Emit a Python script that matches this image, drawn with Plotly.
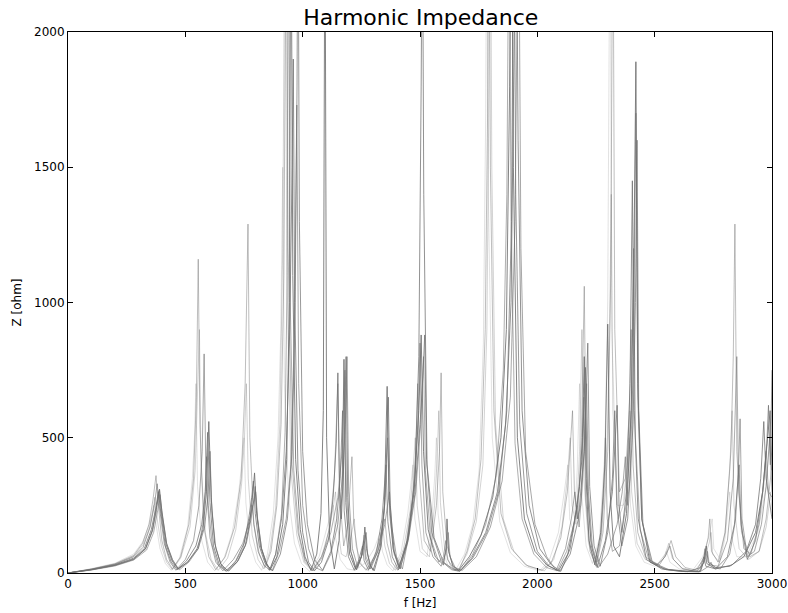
import plotly.graph_objects as go

# (f [Hz], Z [ohm]) points, one list per sweep
curve_a = [(0,0),(100,12),(200,28),(280,50),(330,90),(360,160),(378,250),(390,310),(400,230),(420,110),(445,50),(470,15),(510,40),(550,90),(575,160),(590,300),(600,560),(610,280),(625,110),(650,35),(680,8),(720,40),(755,100),(775,190),(788,300),(795,370),(803,230),(820,100),(840,45),(862,12),(890,60),(915,180),(932,420),(943,1000),(950,2600),(958,1100),(970,420),(990,160),(1010,60),(1035,10),(1060,70),(1078,220),(1088,600),(1095,2600),(1102,500),(1115,130),(1135,15),(1155,120),(1168,300),(1176,790),(1184,260),(1200,70),(1225,15),(1250,60),(1260,110),(1265,170),(1272,90),(1285,35),(1300,10),(1330,90),(1348,250),(1360,690),(1368,280),(1385,90),(1410,20),(1445,120),(1475,300),(1495,600),(1505,880),(1515,450),(1535,160),(1565,60),(1600,30),(1612,100),(1615,200),(1622,80),(1640,25),(1665,10),(1710,60),(1760,140),(1810,280),(1845,500),(1868,900),(1882,1800),(1890,2600),(1898,1500),(1915,500),(1945,200),(1990,80),(2040,30),(2090,8),(2130,70),(2160,200),(2180,320),(2192,500),(2200,800),(2208,350),(2220,120),(2245,30),(2270,150),(2288,400),(2300,920),(2310,300),(2325,100),(2350,60),(2380,220),(2400,600),(2412,1200),(2420,1890),(2428,700),(2445,200),(2480,40),(2540,15),(2620,8),(2695,5),(2712,50),(2720,100),(2728,40),(2760,20),(2820,25),(2880,60),(2930,150),(2960,300),(2980,480),(2992,600),(3000,380)]

curve_b = [(0,0),(100,13),(200,30),(280,55),(325,90),(355,160),(374,240),(385,300),(396,220),(415,100),(440,40),(465,12),(505,45),(545,100),(570,180),(585,300),(595,520),(605,260),(620,100),(645,30),(675,6),(715,45),(750,110),(770,200),(783,280),(790,340),(798,220),(815,100),(838,40),(860,10),(885,70),(910,200),(930,450),(945,900),(955,1500),(960,1900),(966,1000),(980,380),(1000,150),(1025,40),(1050,8),(1080,40),(1110,120),(1130,280),(1143,480),(1150,740),(1157,300),(1165,200),(1175,400),(1185,800),(1192,280),(1205,80),(1228,12),(1255,70),(1265,120),(1270,150),(1277,70),(1290,25),(1305,8),(1335,100),(1352,280),(1365,650),(1373,250),(1390,80),(1415,15),(1450,130),(1478,350),(1495,800),(1505,1800),(1510,2600),(1516,1400),(1530,400),(1560,130),(1600,40),(1640,15),(1670,8),(1720,55),(1780,150),(1830,300),(1865,550),(1888,1000),(1902,1900),(1910,2600),(1918,1600),(1935,600),(1965,250),(2010,90),(2060,30),(2100,6),(2140,90),(2170,250),(2190,420),(2205,760),(2213,300),(2230,100),(2255,20),(2290,120),(2320,300),(2340,620),(2348,250),(2360,150),(2380,300),(2395,700),(2405,1450),(2413,600),(2430,200),(2465,50),(2530,15),(2610,6),(2690,4),(2708,40),(2715,90),(2722,35),(2760,15),(2830,30),(2890,80),(2930,180),(2952,350),(2965,560),(2975,350),(2990,250),(3000,200)]

curve_c = [(0,0),(100,14),(200,32),(280,60),(320,95),(350,170),(368,250),(380,330),(390,240),(410,110),(435,40),(460,10),(500,50),(535,120),(558,250),(572,450),(580,810),(588,350),(605,130),(630,40),(660,8),(705,50),(745,110),(772,190),(790,260),(800,300),(808,200),(825,90),(848,30),(870,8),(900,80),(930,200),(950,400),(965,900),(975,1730),(983,700),(1000,250),(1025,90),(1055,20),(1085,8),(1120,70),(1150,180),(1172,380),(1182,550),(1189,800),(1196,300),(1212,90),(1235,20),(1250,60),(1260,120),(1268,50),(1285,15),(1320,80),(1350,180),(1370,300),(1380,170),(1400,60),(1425,15),(1455,150),(1480,380),(1493,600),(1500,850),(1508,400),(1525,150),(1555,60),(1590,25),(1612,80),(1620,150),(1628,60),(1650,20),(1680,10),(1740,60),(1800,170),(1850,340),(1885,650),(1905,1300),(1920,2600),(1930,1200),(1950,450),(1990,180),(2040,60),(2080,10),(2120,90),(2145,200),(2160,300),(2170,200),(2185,250),(2200,450),(2210,700),(2218,300),(2235,90),(2260,20),(2300,70),(2340,180),(2362,300),(2375,430),(2383,250),(2395,350),(2410,800),(2420,1700),(2428,650),(2445,200),(2485,40),(2550,12),(2630,5),(2700,8),(2730,25),(2740,40),(2750,20),(2780,15),(2820,70),(2845,200),(2858,400),(2864,570),(2872,200),(2895,60),(2925,80),(2955,180),(2975,320),(2990,500),(3000,300)]

curve_d = [(0,0),(100,15),(200,34),(280,65),(318,110),(345,180),(362,270),(375,360),(385,250),(400,120),(420,50),(445,15),(480,60),(515,180),(535,350),(547,650),(555,1160),(562,550),(578,180),(600,60),(630,12),(670,60),(710,170),(738,350),(755,700),(767,1290),(775,500),(792,180),(815,70),(840,20),(865,80),(890,250),(908,550),(920,1100),(930,2600),(938,1200),(955,400),(980,150),(1010,40),(1045,8),(1085,60),(1115,170),(1135,350),(1150,700),(1158,280),(1175,100),(1192,180),(1210,430),(1218,180),(1240,40),(1270,10),(1305,60),(1330,130),(1350,200),(1360,110),(1380,40),(1405,10),(1440,100),(1468,280),(1482,450),(1490,700),(1498,350),(1518,120),(1545,80),(1570,250),(1583,450),(1590,740),(1597,300),(1615,100),(1640,30),(1665,8),(1700,80),(1735,200),(1760,420),(1778,900),(1788,1700),(1794,2600),(1800,1500),(1815,600),(1845,220),(1890,90),(1950,30),(2020,10),(2060,40),(2100,130),(2128,300),(2150,600),(2158,300),(2172,200),(2188,500),(2200,1060),(2208,400),(2228,120),(2255,40),(2280,150),(2300,450),(2313,1100),(2322,2600),(2330,900),(2350,300),(2375,350),(2392,600),(2400,900),(2408,400),(2428,150),(2460,60),(2510,30),(2545,60),(2570,120),(2590,60),(2630,20),(2680,10),(2710,60),(2728,130),(2735,200),(2742,80),(2770,40),(2800,150),(2825,450),(2835,800),(2842,1290),(2850,450),(2870,150),(2905,60),(2945,80),(2975,200),(3000,400)]

curve_e = [(0,0),(100,11),(200,26),(280,48),(335,85),(365,150),(382,230),(392,290),(402,210),(422,100),(448,40),(475,12),(515,40),(555,90),(575,180),(585,300),(590,430),(598,250),(615,100),(640,30),(670,8),(710,35),(745,90),(768,170),(780,220),(785,250),(792,180),(810,80),(835,30),(858,10),(885,70),(910,220),(925,520),(934,1100),(940,2600),(947,1000),(962,380),(985,140),(1010,50),(1040,8),(1080,60),(1120,150),(1150,280),(1168,450),(1180,750),(1187,280),(1205,80),(1230,12),(1250,60),(1262,140),(1270,60),(1290,15),(1325,90),(1348,230),(1362,500),(1370,220),(1390,70),(1415,15),(1450,120),(1482,300),(1503,550),(1515,800),(1523,380),(1545,130),(1580,40),(1600,60),(1610,120),(1617,50),(1645,15),(1675,10),(1725,70),(1780,180),(1825,360),(1855,750),(1870,1400),(1880,2600),(1888,1300),(1905,480),(1935,200),(1985,70),(2040,20),(2085,8),(2125,80),(2155,180),(2170,250),(2178,170),(2190,300),(2198,650),(2206,280),(2225,80),(2250,25),(2270,130),(2282,280),(2290,500),(2298,200),(2320,80),(2350,100),(2380,260),(2400,600),(2410,1200),(2418,500),(2438,160),(2475,50),(2520,30),(2550,70),(2565,100),(2580,50),(2620,15),(2680,6),(2712,40),(2725,80),(2733,30),(2770,25),(2810,120),(2835,350),(2850,800),(2858,300),(2880,90),(2910,70),(2945,180),(2965,330),(2975,450),(2985,300),(3000,280)]

curve_f = [(0,0),(100,14),(200,33),(280,62),(320,105),(348,170),(362,230),(370,280),(380,200),(398,100),(420,40),(445,12),(480,55),(520,170),(542,380),(553,650),(560,900),(567,400),(585,150),(610,50),(640,10),(680,55),(715,160),(740,330),(752,500),(760,700),(768,350),(785,140),(810,50),(835,15),(860,80),(885,240),(903,550),(915,1200),(925,2600),(933,1100),(950,380),(975,140),(1005,40),(1040,8),(1080,60),(1110,150),(1130,240),(1140,300),(1148,180),(1165,70),(1185,60),(1205,130),(1220,200),(1228,100),(1250,30),(1280,8),(1315,70),(1330,130),(1340,180),(1350,100),(1370,35),(1395,10),(1430,90),(1458,230),(1472,380),(1480,500),(1488,250),(1510,90),(1540,60),(1562,250),(1573,420),(1580,600),(1587,260),(1605,90),(1630,25),(1660,8),(1700,70),(1740,190),(1768,400),(1785,900),(1794,1800),(1800,2600),(1806,1500),(1822,550),(1855,200),(1900,80),(1960,25),(2030,8),(2070,50),(2105,170),(2128,350),(2140,500),(2148,250),(2165,180),(2180,450),(2190,900),(2198,350),(2218,110),(2245,40),(2275,150),(2298,500),(2308,900),(2315,1400),(2322,600),(2345,200),(2370,260),(2388,450),(2395,600),(2402,300),(2425,110),(2460,50),(2510,30),(2545,70),(2560,110),(2575,55),(2615,18),(2670,8),(2710,50),(2732,110),(2740,150),(2747,70),(2775,40),(2800,150),(2820,380),(2830,600),(2838,250),(2860,90),(2900,50),(2945,80),(2975,170),(2995,300),(3000,220)]

curve_g = [(0,0),(100,12),(200,29),(280,52),(330,88),(360,155),(377,235),(388,305),(398,225),(418,105),(443,45),(468,14),(510,40),(555,90),(582,170),(597,290),(605,450),(613,230),(630,90),(655,25),(685,7),(725,45),(760,110),(780,200),(792,270),(798,320),(806,210),(825,90),(848,30),(872,8),(905,70),(935,200),(955,450),(968,1000),(976,1800),(980,2600),(986,1300),(1000,450),(1020,180),(1050,50),(1085,10),(1120,80),(1145,200),(1160,350),(1170,600),(1177,230),(1195,60),(1220,10),(1240,50),(1255,100),(1262,45),(1280,12),(1315,80),(1338,200),(1355,400),(1363,190),(1382,60),(1408,12),(1445,110),(1478,290),(1500,550),(1512,720),(1520,880),(1528,420),(1550,150),(1590,45),(1635,12),(1670,6),(1725,55),(1785,150),(1835,300),(1870,600),(1890,1300),(1900,2600),(1908,1400),(1925,550),(1955,220),(2000,80),(2050,25),(2095,6),(2140,70),(2175,200),(2200,450),(2215,850),(2223,320),(2242,100),(2268,25),(2300,150),(2320,350),(2330,600),(2338,250),(2360,100),(2385,200),(2408,550),(2418,1000),(2425,1600),(2432,600),(2450,180),(2490,40),(2560,12),(2640,5),(2695,20),(2710,60),(2718,25),(2760,15),(2810,60),(2840,180),(2852,300),(2860,400),(2868,180),(2895,50),(2930,120),(2960,300),(2978,480),(2985,620),(2993,400),(3000,750)]

curve_h = [(0,0),(100,16),(200,36),(280,70),(318,115),(343,170),(357,215),(365,250),(375,180),(392,90),(415,35),(440,10),(475,55),(510,170),(530,350),(540,520),(545,700),(552,320),(570,120),(595,40),(625,8),(665,55),(700,150),(728,300),(742,420),(750,500),(758,260),(775,110),(800,40),(825,10),(850,70),(875,220),(895,500),(907,900),(915,1500),(922,700),(940,280),(965,110),(995,35),(1030,6),(1070,60),(1100,150),(1120,220),(1130,250),(1138,140),(1160,50),(1190,15),(1225,10),(1270,40),(1305,90),(1322,130),(1330,150),(1340,80),(1360,30),(1385,8),(1420,80),(1448,220),(1462,330),(1470,400),(1478,200),(1500,80),(1530,60),(1552,220),(1563,360),(1570,500),(1577,220),(1597,80),(1620,25),(1650,8),(1690,70),(1725,180),(1752,380),(1770,850),(1780,1700),(1785,2600),(1791,1400),(1808,500),(1840,190),(1885,75),(1945,25),(2010,8),(2050,45),(2090,150),(2115,300),(2130,400),(2138,200),(2155,150),(2170,380),(2180,700),(2188,300),(2208,100),(2235,35),(2265,130),(2288,450),(2300,1000),(2310,2600),(2317,900),(2340,250),(2365,250),(2382,400),(2390,500),(2397,250),(2420,100),(2455,40),(2500,25),(2535,50),(2550,80),(2565,40),(2605,15),(2660,8),(2705,60),(2733,140),(2745,200),(2752,90),(2780,50),(2800,130),(2815,240),(2820,300),(2828,130),(2850,60),(2890,60),(2940,150),(2975,320),(3000,600)]

curves = [curve_h, curve_f, curve_d, curve_e, curve_c, curve_g, curve_b, curve_a]
alphas = [0.2, 0.3, 0.45, 0.55, 0.6, 0.7, 0.75, 0.85]

fig = go.Figure()
for pts, a in zip(curves, alphas):
    f, z = zip(*pts)
    fig.add_trace(go.Scatter(
        x=f, y=z, mode="lines",
        line=dict(color="rgba(110,110,110,%s)" % a, width=1),
        showlegend=False, hoverinfo="skip"))

axis_style = dict(
    showline=True, linecolor="black", linewidth=1, mirror="ticks",
    ticks="inside", ticklen=5, tickcolor="black",
    showgrid=False, zeroline=False, automargin=False,
    tickfont=dict(family="DejaVu Sans", size=12, color="black"),
)

fig.update_layout(
    width=788, height=613,
    margin=dict(l=68, r=16, t=32, b=40),
    paper_bgcolor="white", plot_bgcolor="white",
    title=dict(text="Harmonic Impedance", x=0.534, xanchor="center",
               y=0.972, yanchor="middle", yref="container",
               font=dict(family="DejaVu Sans", size=22, color="black")),
    xaxis=dict(range=[0, 3000], tickvals=[0, 500, 1000, 1500, 2000, 2500, 3000],
               title=dict(text="f [Hz]", standoff=8,
                          font=dict(family="DejaVu Sans", size=12, color="black")),
               **axis_style),
    yaxis=dict(range=[0, 2000], tickvals=[0, 500, 1000, 1500, 2000],
               title=dict(text="Z [ohm]", standoff=9,
                          font=dict(family="DejaVu Sans", size=12, color="black")),
               **axis_style),
)

# drop the page's default body margin so the figure sits at the window's corner
fig.write_html("out.html", config={"displayModeBar": False},
               post_script="document.body.style.margin='0';document.body.style.overflow='hidden';")
